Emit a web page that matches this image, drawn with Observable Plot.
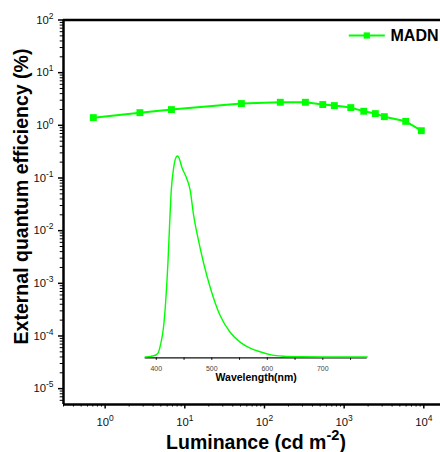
<!DOCTYPE html>
<html>
<head>
<meta charset="utf-8">
<script src="https://cdn.jsdelivr.net/npm/d3@7"></script>
<script src="https://cdn.jsdelivr.net/npm/@observablehq/plot@0.6"></script>
<style>
  html, body { margin: 0; padding: 0; background: white; overflow: hidden; }
  #wrap { position: relative; width: 440px; height: 452px; }
  #inset { position: absolute; left: 130px; top: 140px; }
</style>
</head>
<body>
<div id="wrap"><div id="main"></div><div id="inset"></div></div>
<script>
// ---- Data ----
const luminance = [0.71, 2.73, 6.79, 51.3, 158, 326, 539, 753, 1211, 1762, 2462, 3194, 5929, 9306];
const eqe       = [1.40, 1.74, 1.99, 2.59, 2.74, 2.74, 2.48, 2.37, 2.17, 1.85, 1.67, 1.46, 1.19, 0.79];
const seriesName = "MADN";

const wavelength = [380, 390, 395, 400, 404, 408, 413, 417, 421, 424, 427, 431, 435, 438, 441, 446, 455, 461, 467, 476, 485, 497, 515, 533, 551, 569, 587, 605, 629, 660, 700, 780];
const intensity  = [0, 0.003, 0.006, 0.012, 0.024, 0.066, 0.148, 0.28, 0.47, 0.66, 0.83, 0.936, 0.99, 1.0, 0.99, 0.944, 0.887, 0.83, 0.71, 0.58, 0.47, 0.347, 0.206, 0.123, 0.074, 0.044, 0.026, 0.012, 0.004, 0.001, 0, 0];

const xMajor = [1, 10, 100, 1000, 10000];
const yMajor = [1e-5, 1e-4, 1e-3, 1e-2, 1e-1, 1, 10, 100];
const insetMajor = [400, 500, 600, 700];
const insetMinor = [450, 550, 650, 750];

const xDomain = [0.3, 16200];
const yDomain = [5e-6, 100];

function minorLog(lo, hi) {
  const out = [];
  for (let k = Math.floor(Math.log10(lo)); k <= Math.ceil(Math.log10(hi)); k++)
    for (let m = 2; m <= 9; m++) { const v = m * Math.pow(10, k); if (v >= lo && v <= hi) out.push(v); }
  return out;
}
const xMinor = minorLog(xDomain[0], xDomain[1]);
const yMinor = minorLog(yDomain[0], yDomain[1]);

const green = "#00ff00";
const expFmt = d => "10^" + Math.round(Math.log10(d));
const table = luminance.map((l, i) => ({l, e: eqe[i]}));
const spec = wavelength.map((w, i) => ({w, v: intensity[i]}));

const lineSymbol = { draw(ctx) { ctx.moveTo(-18, 0); ctx.lineTo(18, 0); } };

const main = Plot.plot({
  width: 440, height: 452,
  marginLeft: 63, marginTop: 19.5, marginBottom: 48, marginRight: 0,
  style: {fontFamily: "'Liberation Sans', Arial, sans-serif", background: "white", color: "black"},
  x: {type: "log", domain: xDomain},
  y: {type: "log", domain: yDomain},
  marks: [
    Plot.axisY(yMinor, {tickSize: 3.3, strokeWidth: 1, tickFormat: () => "", label: null}),
    Plot.axisY(yMajor, {tickSize: 5, strokeWidth: 1.5, tickPadding: 5, tickFormat: expFmt, fontSize: 11.3, fill: "#111", label: null}),
    Plot.axisX(xMinor, {tickSize: 2.5, strokeWidth: 1, tickFormat: () => "", label: null}),
    Plot.axisX(xMajor, {tickSize: 4.5, strokeWidth: 1.5, tickPadding: 9, tickFormat: expFmt, fontSize: 11.3, fill: "#111", label: null}),
    Plot.ruleX([xDomain[0]], {stroke: "black", strokeWidth: 2.5}),
    Plot.ruleY([yDomain[0]], {stroke: "black", strokeWidth: 2.5}),
    Plot.ruleY([yDomain[1]], {stroke: "black", strokeWidth: 2.5}),
    Plot.line(table, {x: "l", y: "e", stroke: green, strokeWidth: 2}),
    Plot.dot(table, {x: "l", y: "e", symbol: "square", r: 3.9, fill: green, stroke: "none"}),
    // legend
    Plot.dot([seriesName], {frameAnchor: "top-right", dx: -73.7, dy: 15.5, symbol: lineSymbol, stroke: green, strokeWidth: 2, fill: "none"}),
    Plot.dot([seriesName], {frameAnchor: "top-right", dx: -73.7, dy: 15.5, symbol: "square", r: 3.5, fill: green, stroke: "none"}),
    Plot.text([seriesName], {frameAnchor: "top-right", text: d => d, dx: -50, dy: 20.5, textAnchor: "start", lineAnchor: "bottom", fontSize: 16, fontWeight: "bold", fill: "black"}),
    // axis titles
    Plot.text(["Luminance (cd m^-2)"], {frameAnchor: "bottom", text: d => d, dx: 4, dy: 44, textAnchor: "middle", lineAnchor: "bottom", fontSize: 19.5, fontWeight: "bold", fill: "black"}),
    Plot.text(["External quantum efficiency (%)"], {frameAnchor: "left", text: d => d, rotate: -90, dx: -35.5, dy: -15.75, textAnchor: "middle", lineAnchor: "bottom", fontSize: 19.5, fontWeight: "bold", fill: "black"})
  ]
});
document.getElementById("main").append(main);

const inset = Plot.plot({
  width: 250, height: 245,
  marginLeft: 14.7, marginRight: 13.3, marginTop: 15.5, marginBottom: 27.7,
  style: {fontFamily: "'Liberation Sans', Arial, sans-serif", background: "transparent", color: "black", overflow: "visible"},
  x: {domain: [380, 780]},
  y: {domain: [-0.004, 1], axis: null},
  marks: [
    Plot.axisX(insetMinor, {tickSize: 2.5, strokeWidth: 1, tickFormat: () => "", label: null}),
    Plot.axisX(insetMajor, {tickSize: 2.5, strokeWidth: 1, tickPadding: 5.5, fontSize: 7, fill: "#444", label: null}),
    Plot.ruleY([-0.004], {stroke: "#111", strokeWidth: 1.2}),
    Plot.line(spec, {x: "w", y: "v", stroke: green, strokeWidth: 1.4, curve: "monotone-x"}),
    Plot.text(["Wavelength(nm)"], {frameAnchor: "bottom", text: d => d, dy: 23.4, textAnchor: "middle", lineAnchor: "bottom", fontSize: 10.5, fontWeight: "bold", fill: "black"})
  ]
});
document.getElementById("inset").append(inset);

function supify(svg) {
  d3.select(svg).selectAll("text").each(function() {
    if (this.querySelector("tspan")) return;
    const t = this.textContent;
    const m = t.match(/^(.*)\^(-?\d+)(.*)$/);
    if (!m) return;
    const fs = parseFloat(getComputedStyle(this).fontSize) || 11;
    const sel = d3.select(this);
    sel.text(null);
    sel.append("tspan").text(m[1]);
    sel.append("tspan").attr("dy", -0.45 * fs).attr("font-size", 0.75 * fs).text(m[2]);
    if (m[3]) sel.append("tspan").attr("dy", 0.45 * fs).text(m[3]);
  });
}
supify(main);
</script>
</body>
</html>
